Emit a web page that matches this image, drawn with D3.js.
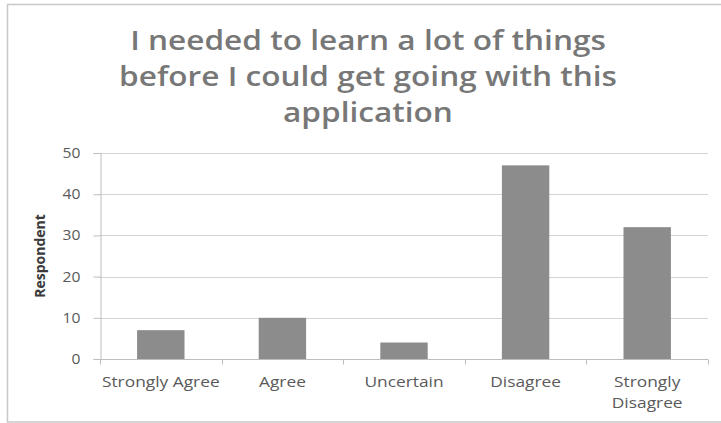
<!DOCTYPE html>
<html>
<head>
<meta charset="utf-8">
<script src="https://cdn.jsdelivr.net/npm/d3@7"></script>
<style>
  html, body { margin: 0; padding: 0; background: #fff; }
  svg { display: block; }
</style>
</head>
<body>
<svg id="chart" width="721" height="423"></svg>
<script>
// Survey responses for a single questionnaire item
const categories = ["Strongly Agree", "Agree", "Uncertain", "Disagree", "Strongly Disagree"];
const respondents = [7, 10, 4, 47, 32];
const yTicks = [0, 10, 20, 30, 40, 50];
const titleLines = ["I needed to learn a lot of things", "before I could get going with this", "application"];

const FONT = "'Open Sans', Lato, sans-serif";
const TITLE_STRETCH = 1.17; // text is drawn slightly wide
const LABEL_STRETCH = 1.24;
const svg = d3.select("#chart");
const W = 721, H = 423;
const margin = { top: 153, right: 13, bottom: 64, left: 100 };

// outer chart frame
svg.append("rect")
  .attr("x", 7.5).attr("y", 4.5)
  .attr("width", W - 7.5 + 5).attr("height", 417.5)
  .attr("fill", "#fff").attr("stroke", "#c8c8c8").attr("stroke-width", 1.5);

const x = d3.scaleBand()
  .domain(categories)
  .range([margin.left, W - margin.right])
  .paddingInner(0.61).paddingOuter(0.305);

const y = d3.scaleLinear()
  .domain([0, 50])
  .range([H - margin.bottom, margin.top]);

// horizontal gridlines
svg.append("g")
  .selectAll("line")
  .data(yTicks.filter(d => d > 0))
  .join("line")
  .attr("x1", margin.left).attr("x2", W - margin.right)
  .attr("y1", d => Math.round(y(d)) + 0.5).attr("y2", d => Math.round(y(d)) + 0.5)
  .attr("stroke", "#d4d4d4").attr("stroke-width", 1);

// bars
svg.append("g")
  .selectAll("rect")
  .data(categories)
  .join("rect")
  .attr("x", d => x(d))
  .attr("width", x.bandwidth())
  .attr("y", (d, i) => y(respondents[i]))
  .attr("height", (d, i) => y(0) - y(respondents[i]))
  .attr("fill", "#8c8c8c");

// y axis
const yAxis = svg.append("g")
  .attr("transform", `translate(${margin.left + 0.5},0)`)
  .call(d3.axisLeft(y).tickValues(yTicks).tickSize(7).tickPadding(13));
yAxis.select(".domain").attr("stroke", "#bdbdbd");
yAxis.selectAll(".tick line").attr("stroke", "#bdbdbd");
yAxis.selectAll(".tick text")
  .attr("fill", "#5a5a5a")
  .style("font-family", FONT)
  .style("font-size", "14px")
  .attr("transform", function () {
    const tx = +d3.select(this).attr("x");
    return `translate(${tx},0) scale(1.12,1) translate(${-tx},0)`;
  });

// x axis with ticks at category boundaries
const xAxis = svg.append("g")
  .attr("transform", `translate(0,${Math.round(y(0)) + 0.5})`);
xAxis.append("line")
  .attr("x1", margin.left).attr("x2", W - margin.right)
  .attr("stroke", "#bdbdbd");
const step = x.step();
const bounds = d3.range(categories.length + 1).map(i => margin.left + i * step);
xAxis.selectAll("line.tick")
  .data(bounds)
  .join("line")
  .attr("class", "tick")
  .attr("x1", d => Math.round(d) + 0.5).attr("x2", d => Math.round(d) + 0.5)
  .attr("y1", 0).attr("y2", 5)
  .attr("stroke", "#bdbdbd");

// category labels, wrapped when wide
const labelG = svg.append("g")
  .style("font-family", FONT)
  .style("font-size", "14px")
  .attr("fill", "#5a5a5a")
  .attr("text-anchor", "middle");
categories.forEach(c => {
  const cx = x(c) + x.bandwidth() / 2;
  const lines = c === "Strongly Disagree" ? ["Strongly", "Disagree"] : [c];
  const t = labelG.append("text")
    .attr("transform", `translate(${cx},387) scale(${LABEL_STRETCH},1)`);
  lines.forEach((ln, i) => {
    t.append("tspan").attr("x", 0).attr("dy", i === 0 ? 0 : 21).text(ln);
  });
});

// y axis title
svg.append("text")
  .attr("transform", `translate(45,${(y(0) + y(50)) / 2}) rotate(-90)`)
  .attr("text-anchor", "middle")
  .style("font-family", FONT)
  .style("font-size", "14px")
  .style("font-weight", "bold")
  .attr("fill", "#3a3a3a")
  .text("Respondent");

// chart title
const title = svg.append("text")
  .attr("transform", `translate(368,0) scale(${TITLE_STRETCH},1)`)
  .attr("text-anchor", "middle")
  .style("font-family", FONT)
  .style("font-size", "27px")
  .style("font-weight", "600")
  .attr("fill", "#777777");
titleLines.forEach((ln, i) => {
  title.append("tspan").attr("x", 0).attr("y", 50 + i * 36).text(ln);
});
</script>
</body>
</html>
